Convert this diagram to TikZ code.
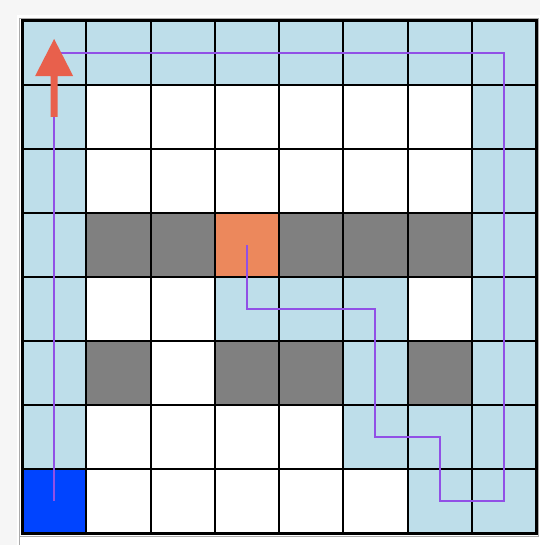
\documentclass[tikz,border=0pt]{standalone}
\definecolor{bggray}{RGB}{246,246,246}
\definecolor{framegray}{RGB}{170,170,170}
\definecolor{cellblue}{RGB}{190,222,234}
\definecolor{wallgray}{RGB}{128,128,128}
\definecolor{goalorange}{RGB}{236,136,92}
\definecolor{startblue}{RGB}{0,68,255}
\definecolor{pathpurple}{RGB}{145,80,230}
\definecolor{arrowred}{RGB}{232,96,76}
\tikzset{
  gridline/.style={line width=2pt, black},
  borderline/.style={line width=3pt, black},
  pathline/.style={line width=2.2pt, pathpurple, line join=miter},
  arrowshape/.style={fill=arrowred, draw=none}
}
\begin{document}
\begin{tikzpicture}[x=1pt,y=-1pt]
\useasboundingbox (0,0) rectangle (540,545);
\fill[bggray] (0,0) rectangle (540,545);
\fill[white] (17,15) rectangle (540,545);
\draw[framegray, line width=1.5pt] (19.5,545) -- (19.5,18.5) -- (538.5,18.5) -- (538.5,536.5) -- (19.5,536.5);
\begin{scope}[shift={(22,21)}, x=64.25pt, y=-64pt]
  % blue visited cells
  \foreach \c/\r in {0/0,1/0,2/0,3/0,4/0,5/0,6/0,7/0,
                     0/1,7/1,0/2,7/2,0/3,7/3,
                     0/4,3/4,4/4,5/4,7/4,
                     0/5,5/5,7/5,
                     0/6,5/6,6/6,7/6,
                     6/7,7/7}
    \fill[cellblue] (\c,\r) rectangle ++(1,1);
  % walls
  \foreach \c/\r in {1/3,2/3,4/3,5/3,6/3,1/5,3/5,4/5,6/5}
    \fill[wallgray] (\c,\r) rectangle ++(1,1);
  % goal and start
  \fill[goalorange] (3,3) rectangle ++(1,1);
  \fill[startblue] (0,7) rectangle ++(1,1);
  % grid
  \foreach \i in {1,...,7} {
    \draw[gridline] (\i,0) -- (\i,8);
    \draw[gridline] (0,\i) -- (8,\i);
  }
  \draw[borderline] (0,0) rectangle (8,8);
  % path
  \coordinate (goal) at (3.5,3.5);
  \coordinate (p1) at (3.5,4.5);
  \coordinate (p2) at (5.5,4.5);
  \coordinate (p3) at (5.5,6.5);
  \coordinate (p4) at (6.5,6.5);
  \coordinate (p5) at (6.5,7.5);
  \coordinate (p6) at (7.5,7.5);
  \coordinate (p7) at (7.5,0.5);
  \coordinate (p8) at (0.5,0.5);
  \coordinate (start) at (0.5,7.5);
  \draw[pathline] (goal) -- (p1) -- (p2) -- (p3) -- (p4) -- (p5) -- (p6) -- (p7) -- (p8) -- (start);
  % arrow
  \fill[arrowshape] (0.5,0.28) -- (0.796,0.86) -- (0.555,0.86) -- (0.555,1.5)
     -- (0.445,1.5) -- (0.445,0.86) -- (0.204,0.86) -- cycle;
\end{scope}
\end{tikzpicture}
\end{document}
